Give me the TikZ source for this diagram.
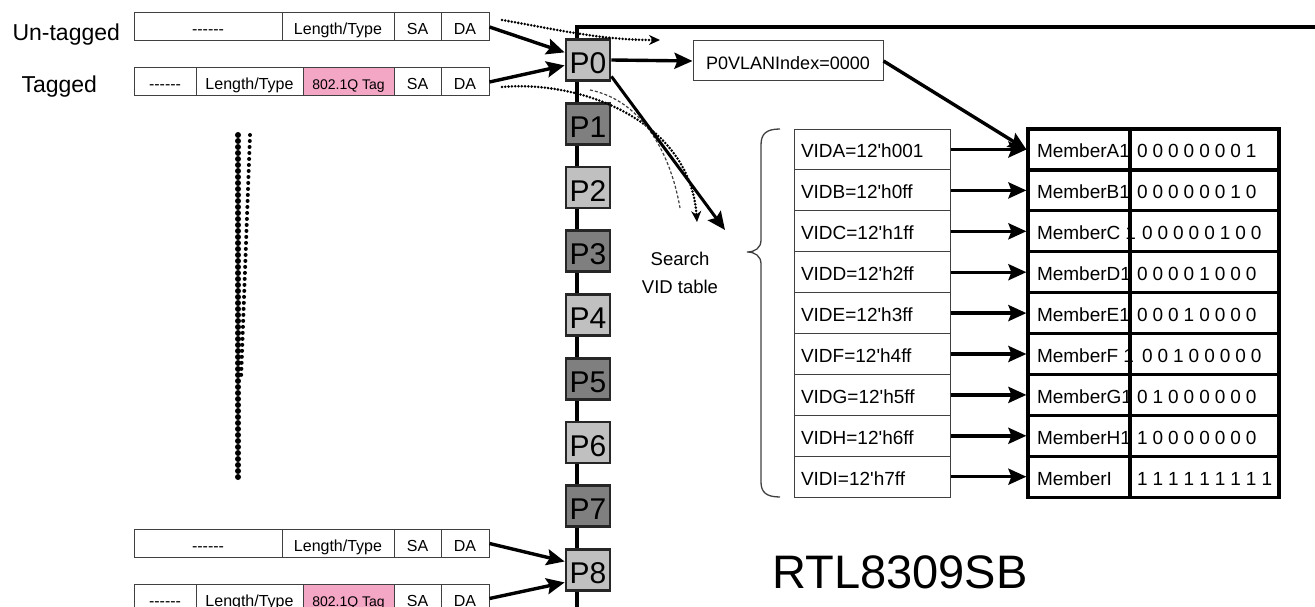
\documentclass[tikz,border=0pt]{standalone}
\usepackage{fontspec}
\setmainfont{Liberation Sans}[Ligatures=TeXOff]
\usepackage{tikz}
\usetikzlibrary{arrows.meta, calc}
\definecolor{vlanportlight}{HTML}{C0C0C0}
\definecolor{vlanportdark}{HTML}{7F7F7F}
\definecolor{vlantagpink}{HTML}{F4A7C4}
\definecolor{vlangrid}{HTML}{404040}
\newcommand{\bitgap}{\spaceskip=5pt\relax}

\begin{document}
\begin{tikzpicture}[x=1pt, y=-1pt,
  fcell/.style={draw=vlangrid, line width=1pt, minimum height=28pt, inner sep=0pt, text height=16pt, text depth=0pt, font=\fontsize{16}{18}\selectfont},
  tagcell/.style={fcell, fill=vlantagpink, font=\fontsize{14}{16}\selectfont},
  port/.style={draw=black!85, line width=2.8pt, minimum width=44pt, minimum height=41pt, inner sep=0pt, text height=27pt, text depth=0pt, font=\fontsize{30}{31}\selectfont},
  portA/.style={port, fill=vlanportlight},
  portB/.style={port, fill=vlanportdark},
  vidcell/.style={draw=vlangrid, line width=1pt, minimum height=40.9pt, text width=142pt, inner xsep=7pt, inner ysep=0pt, align=left, text height=17pt, text depth=0pt, font=\fontsize{19}{21}\selectfont},
  memcell/.style={draw, line width=3.2pt, minimum height=40.9pt, text width=84pt, inner xsep=9pt, inner ysep=0pt, align=left, text height=17pt, text depth=0pt, font=\fontsize{19}{21}\selectfont, execute at begin node=\bitgap},
  bitcell/.style={memcell, text width=135pt, inner xsep=7pt},
  link/.style={line width=3.4pt, -{Stealth[length=18pt, width=16pt, inset=3pt]}},
  trace/.style={line width=2.8pt, dash pattern=on 0pt off 3.3pt, line cap=round, -{Stealth[length=11pt, width=10pt]}}
]
\useasboundingbox (0,0) rectangle (1315,607);

% port bus
\draw[line width=3.2pt] (1315,27) -| (577,607);

% frames
\node[anchor=base west, font=\fontsize{23}{25}\selectfont] (untaglbl) at (9,41) {Un-tagged};
\node[anchor=base west, font=\fontsize{23}{25}\selectfont] (taglbl) at (18,93) {Tagged};
\node[fcell, minimum width=148pt] (ut1) at (208,27) {------};
\node[fcell, minimum width=112pt] (ut2) at (338,27) {Length/Type};
\node[fcell, minimum width=47pt] (ut3) at (417.5,27) {SA};
\node[fcell, minimum width=48pt] (ut4) at (465,27) {DA};
\node[fcell, minimum width=62pt] (tg1) at (165,82) {------};
\node[fcell, minimum width=107pt] (tg2) at (249.5,82) {Length/Type};
\node[tagcell, minimum width=91pt] (tg3) at (348.5,82) {802.1Q Tag};
\node[fcell, minimum width=47pt] (tg4) at (417.5,82) {SA};
\node[fcell, minimum width=48pt] (tg5) at (465,82) {DA};
\node[fcell, minimum width=148pt] (ub1) at (208,543.5) {------};
\node[fcell, minimum width=112pt] (ub2) at (338,543.5) {Length/Type};
\node[fcell, minimum width=47pt] (ub3) at (417.5,543.5) {SA};
\node[fcell, minimum width=48pt] (ub4) at (465,543.5) {DA};
\node[fcell, minimum width=62pt] (tb1) at (165,598.5) {------};
\node[fcell, minimum width=107pt] (tb2) at (249.5,598.5) {Length/Type};
\node[tagcell, minimum width=91pt] (tb3) at (348.5,598.5) {802.1Q Tag};
\node[fcell, minimum width=47pt] (tb4) at (417.5,598.5) {SA};
\node[fcell, minimum width=48pt] (tb5) at (465,598.5) {DA};

% more frames
\draw[line width=6pt, dash pattern=on 0pt off 6pt, line cap=round] (238,135) -- (238,478);
\draw[line width=4pt, dash pattern=on 0pt off 6pt, line cap=round] (250,135) -- (241,380);

% ports
\node[portA] (p0) at (588,60) {P0};
\node[portB] (p1) at (588,123.75) {P1};
\node[portA] (p2) at (588,187.5) {P2};
\node[portB] (p3) at (588,251.25) {P3};
\node[portA] (p4) at (588,315) {P4};
\node[portB] (p5) at (588,378.75) {P5};
\node[portA] (p6) at (588,442.5) {P6};
\node[portB] (p7) at (588,506.25) {P7};
\node[portA] (p8) at (588,570) {P8};

\draw[link] (ut4.east) -- (p0.162);
\draw[link] (tg5.east) -- (p0.193);
\draw[link] (ub4.east) -- (p8.160);
\draw[link] (tb5.east) -- (p8.208);

% lookup path
\node[draw=vlangrid, line width=1pt, minimum width=190pt, minimum height=40pt, inner sep=0pt, text height=18pt, text depth=0pt, font=\fontsize{18}{20}\selectfont] (vlanidx) at (788,61) {P0VLANIndex=0000};
\draw[link] (p0.east) -- (vlanidx.west);
\coordinate (fwdstart) at (502,20);
\coordinate (fwdend) at (660,40);
\coordinate (tagstart) at (502,87);
\coordinate (lookend) at (697,222);
\coordinate (dashstart) at (590,90);
\coordinate (dashend) at (680,208);
\coordinate (srchend) at (725,230);
\draw[trace] (fwdstart) .. controls (560,30) and (600,40) .. (fwdend);
\draw[trace] (tagstart) .. controls (580,80) and (690,120) .. (lookend);
\draw[vlangrid, line width=1.2pt, dash pattern=on 3pt off 2pt] (dashstart) .. controls (640,100) and (670,150) .. (dashend);
\draw[link, line width=3pt] (p0.-35) -- (srchend);
\node[align=center, font=\fontsize{18.5}{28}\selectfont] (search) at (680,273) {Search\\VID table};

% VID table
\draw[vlangrid, line width=1.3pt] (780,129) .. controls (766,129) and (761,134) .. (761,145) -- (761,240)
  .. controls (761,248) and (755,252) .. (747,252) .. controls (755,252) and (761,256) .. (761,264)
  -- (761,482) .. controls (761,492) and (766,497) .. (780,497);
\node[vidcell] (vida) at (872,149.5) {VIDA=12'h001};
\node[vidcell] (vidb) at (872,190.4) {VIDB=12'h0ff};
\node[vidcell] (vidc) at (872,231.3) {VIDC=12'h1ff};
\node[vidcell] (vidd) at (872,272.2) {VIDD=12'h2ff};
\node[vidcell] (vide) at (872,313.1) {VIDE=12'h3ff};
\node[vidcell] (vidf) at (872,354) {VIDF=12'h4ff};
\node[vidcell] (vidg) at (872,394.9) {VIDG=12'h5ff};
\node[vidcell] (vidh) at (872,435.8) {VIDH=12'h6ff};
\node[vidcell] (vidi) at (872,476.7) {VIDI=12'h7ff};

% member table
\node[memcell] (mema) at (1079,149.5) {MemberA1};
\node[bitcell] (bita) at (1204.5,149.5) {0 0 0 0 0 0 0 1};
\node[memcell] (memb) at (1079,190.4) {MemberB1};
\node[bitcell] (bitb) at (1204.5,190.4) {0 0 0 0 0 0 1 0};
\node[memcell] (memc) at (1079,231.3) {MemberC~1};
\node[bitcell] (bitc) at (1204.5,231.3) {\hspace*{5pt}0 0 0 0 0 1 0 0};
\node[memcell] (memd) at (1079,272.2) {MemberD1};
\node[bitcell] (bitd) at (1204.5,272.2) {0 0 0 0 1 0 0 0};
\node[memcell] (meme) at (1079,313.1) {MemberE1};
\node[bitcell] (bite) at (1204.5,313.1) {0 0 0 1 0 0 0 0};
\node[memcell] (memf) at (1079,354) {MemberF~1};
\node[bitcell] (bitf) at (1204.5,354) {\hspace*{5pt}0 0 1 0 0 0 0 0};
\node[memcell] (memg) at (1079,394.9) {MemberG1};
\node[bitcell] (bitg) at (1204.5,394.9) {0 1 0 0 0 0 0 0};
\node[memcell] (memh) at (1079,435.8) {MemberH1};
\node[bitcell] (bith) at (1204.5,435.8) {1 0 0 0 0 0 0 0};
\node[memcell] (memi) at (1079,476.7) {MemberI};
\node[bitcell] (biti) at (1204.5,476.7) {\mbox{1 1 1 1 1 1 1 1 1}};

\draw[link] (vlanidx.east) -- (mema.west);
\draw[link] (vida) -- (mema);
\draw[link] (vidb) -- (memb);
\draw[link] (vidc) -- (memc);
\draw[link] (vidd) -- (memd);
\draw[link] (vide) -- (meme);
\draw[link] (vidf) -- (memf);
\draw[link] (vidg) -- (memg);
\draw[link] (vidh) -- (memh);
\draw[link] (vidi) -- (memi);

\node[font=\fontsize{47}{50}\selectfont] (chip) at (900,572) {RTL8309SB};
\end{tikzpicture}
\end{document}
